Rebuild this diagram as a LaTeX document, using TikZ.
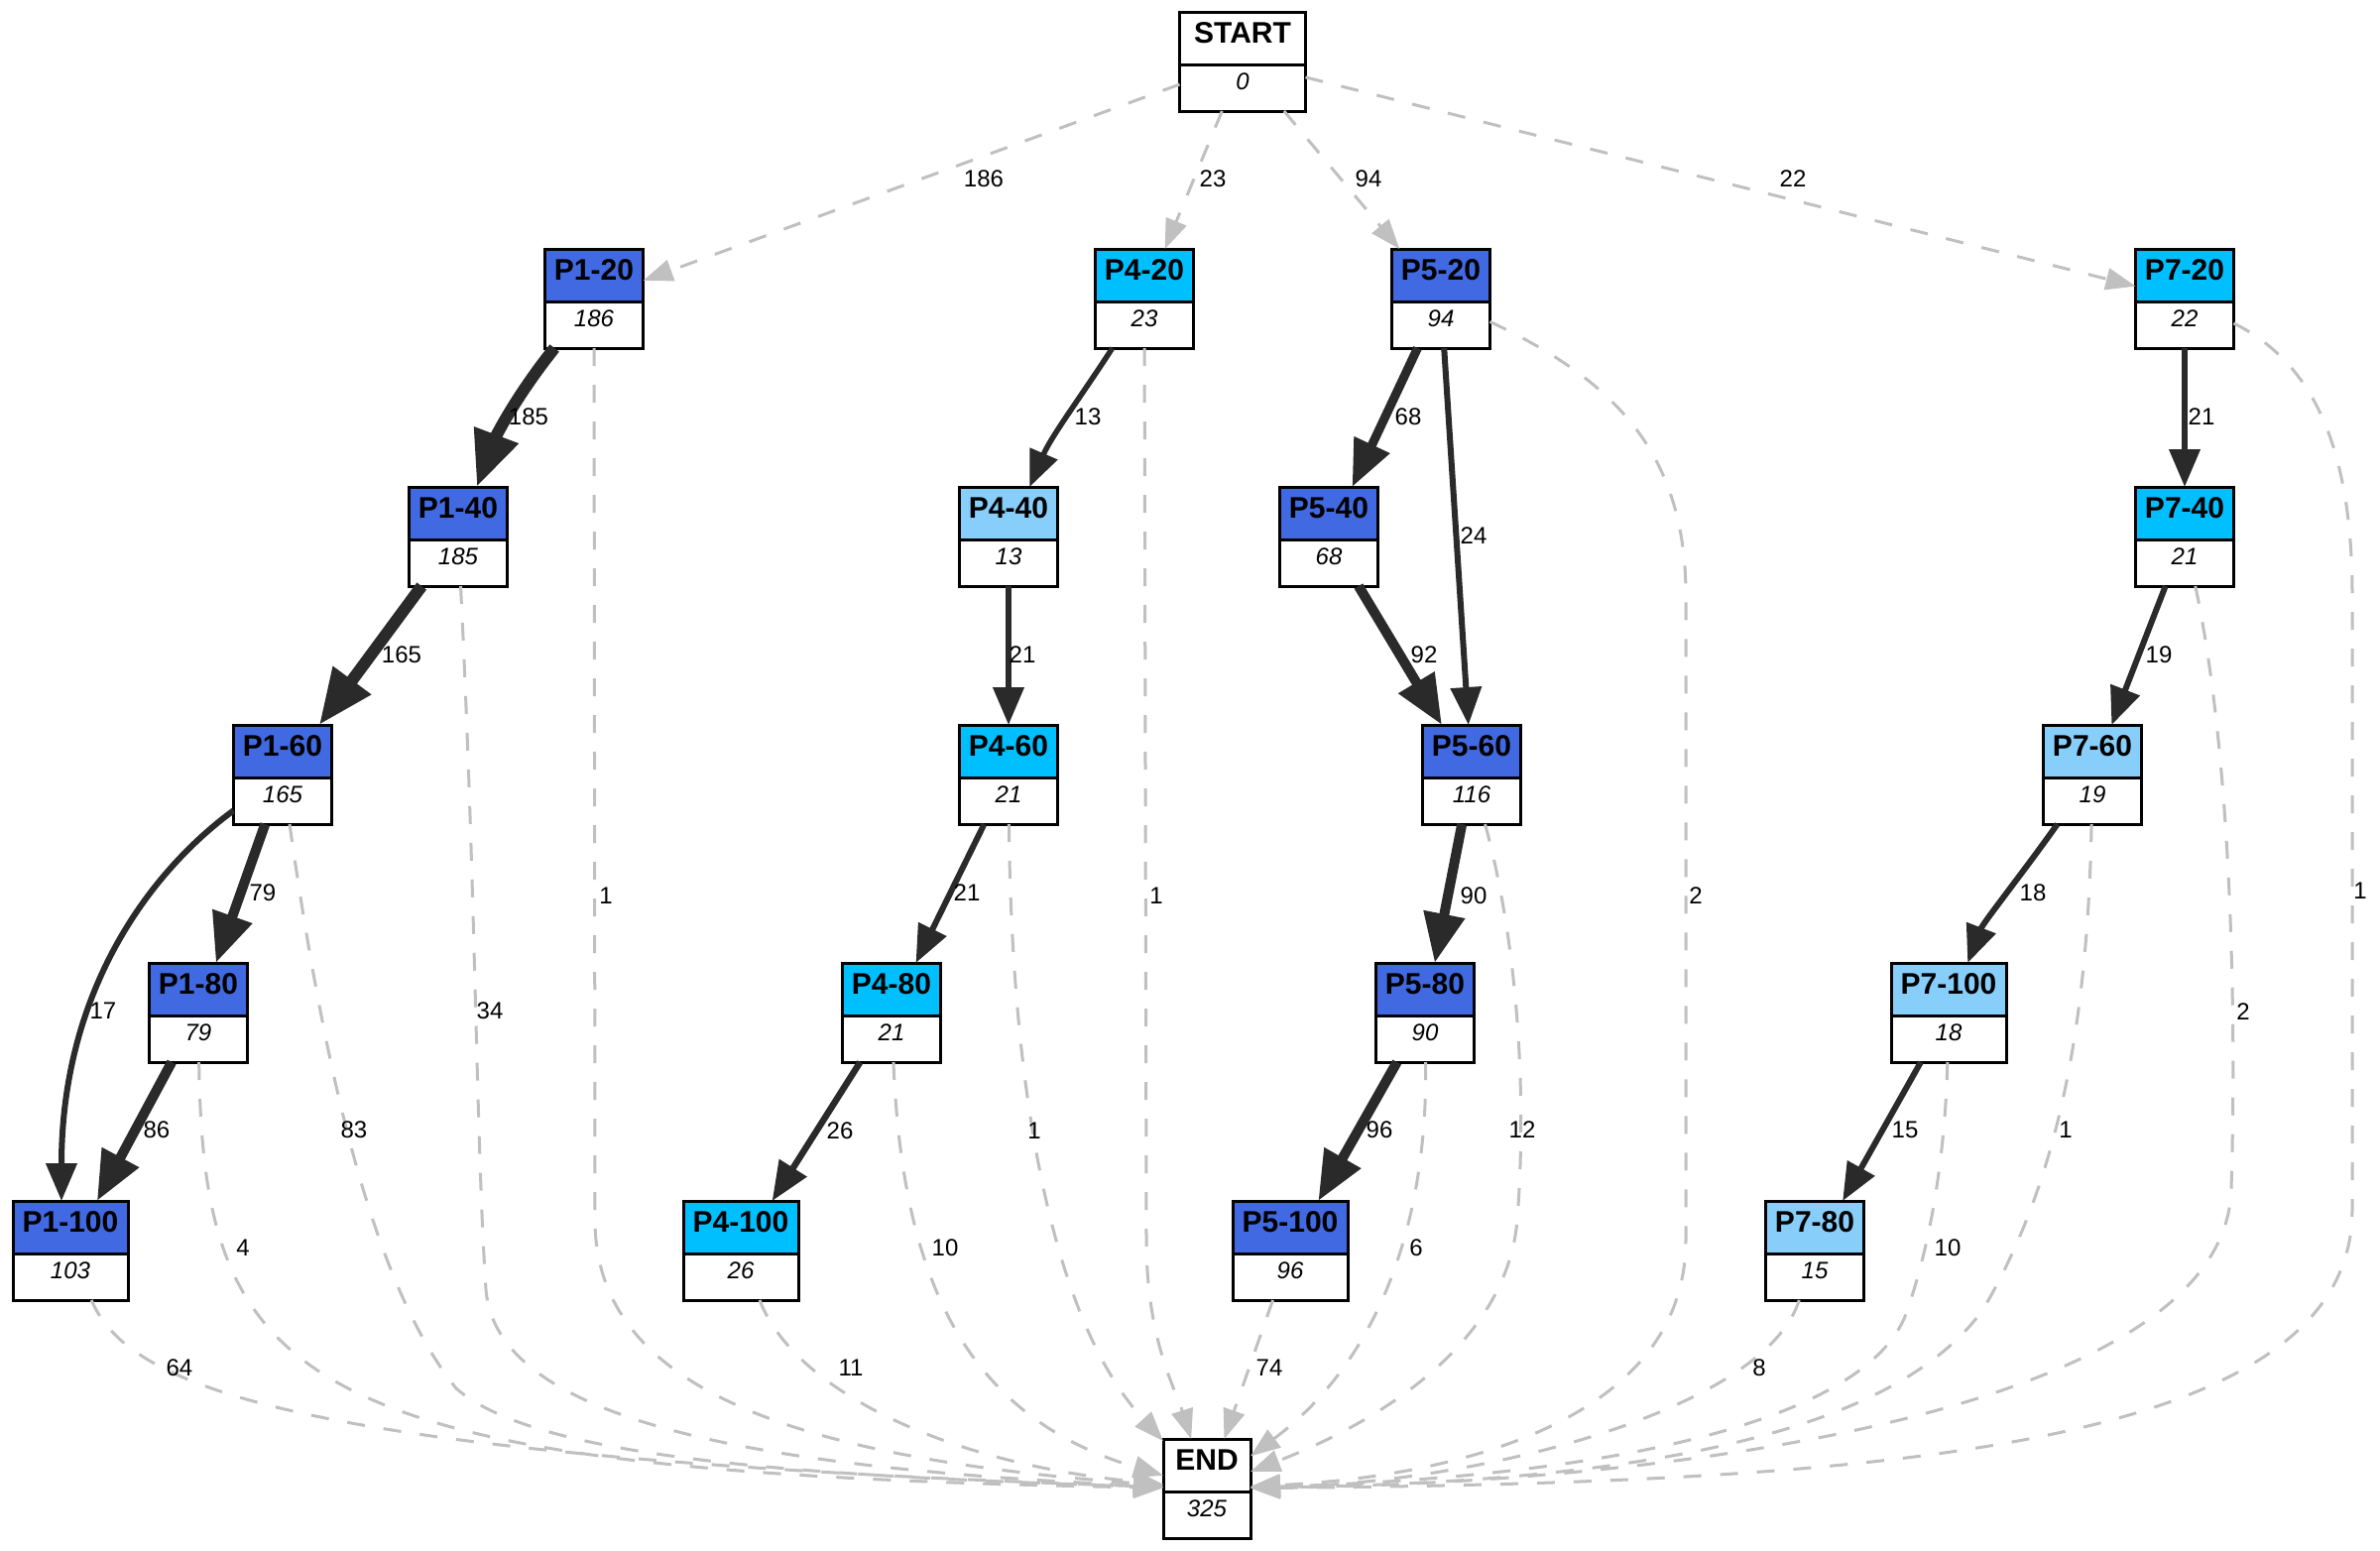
\documentclass[tikz,border=0pt]{standalone}
\usepackage{fontspec}
\setmainfont{Liberation Sans}
\usetikzlibrary{arrows.meta}
\definecolor{royal}{HTML}{4169E1}
\definecolor{deep}{HTML}{00BFFF}
\definecolor{light}{HTML}{87CEFA}
\definecolor{flowc}{HTML}{2A2A2A}
\definecolor{dropc}{HTML}{C0C0C0}
\newcommand\gnode[7]{%
  \node[gbox, minimum width=#4] (#1) at (#2,#3) {};
  \fill[white] (#1.north west) rectangle (#1.south east);
  \fill[#5] (#1.north west) rectangle ([yshift=-26.5pt]#1.north east);
  \draw[boxline] ([yshift=-26.5pt]#1.north west) -- ([yshift=-26.5pt]#1.north east);
  \draw[boxline] (#1.north west) rectangle (#1.south east);
  \node[ttl] (#1-t) at ([yshift=-10.5pt]#1.north) {#6};
  \node[cnt] (#1-c) at ([yshift=-35pt]#1.north) {#7};
}
\tikzset{
  gbox/.style={rectangle, inner sep=0pt, outer sep=0pt, minimum height=50pt},
  boxline/.style={draw=black, line width=1.5pt},
  ttl/.style={font=\fontsize{15pt}{17pt}\selectfont\bfseries, inner sep=0pt},
  cnt/.style={font=\fontsize{12pt}{14pt}\selectfont\itshape, inner sep=0pt},
  elab/.style={font=\fontsize{12pt}{14pt}\selectfont, inner sep=0pt},
  flowedge/.style={draw=flowc, line width=#1, -{Triangle[length=10pt 3, width=8pt 2.4]}},
  dropedge/.style={draw=dropc, line width=1.5pt, dash pattern=on 9pt off 9.5pt, -{Triangle[length=15pt, width=11pt]}},
}
\begin{document}
\begin{tikzpicture}[x=0.5pt, y=-0.5pt]
\fill[white] (0,0) rectangle (2400,1564);
\useasboundingbox (0,0) rectangle (2400,1564);
% nodes
\gnode{start}{1253}{62}{63.5pt}{white}{START}{0}
\gnode{p1n20}{599}{301}{49.5pt}{royal}{P1-20}{186}
\gnode{p4n20}{1154}{301}{49.5pt}{deep}{P4-20}{23}
\gnode{p5n20}{1453}{301}{49.5pt}{royal}{P5-20}{94}
\gnode{p7n20}{2203}{301}{49.5pt}{deep}{P7-20}{22}
\gnode{p1n40}{462}{541}{49.5pt}{royal}{P1-40}{185}
\gnode{p4n40}{1017}{541}{49.5pt}{light}{P4-40}{13}
\gnode{p5n40}{1340}{541}{49.5pt}{royal}{P5-40}{68}
\gnode{p7n40}{2203}{541}{49.5pt}{deep}{P7-40}{21}
\gnode{p1n60}{285}{781}{49.5pt}{royal}{P1-60}{165}
\gnode{p4n60}{1017}{781}{49.5pt}{deep}{P4-60}{21}
\gnode{p5n60}{1484}{781}{49.5pt}{royal}{P5-60}{116}
\gnode{p7n60}{2110}{781}{49.5pt}{light}{P7-60}{19}
\gnode{p1n80}{200}{1021}{49.5pt}{royal}{P1-80}{79}
\gnode{p4n80}{899}{1021}{49.5pt}{deep}{P4-80}{21}
\gnode{p5n80}{1437}{1021}{49.5pt}{royal}{P5-80}{90}
\gnode{p7n100}{1965}{1021}{58pt}{light}{P7-100}{18}
\gnode{p1n100}{71}{1261}{58pt}{royal}{P1-100}{103}
\gnode{p4n100}{747}{1261}{58pt}{deep}{P4-100}{26}
\gnode{p5n100}{1301}{1261}{58pt}{royal}{P5-100}{96}
\gnode{p7n80}{1830}{1261}{49.5pt}{light}{P7-80}{15}
\gnode{end}{1217}{1501}{44pt}{white}{END}{325}
% start edges
\draw[dropedge] (start) -- (p1n20);
\draw[dropedge] (start) -- (p4n20);
\draw[dropedge] (start) -- (p5n20);
\draw[dropedge] (start) -- (p7n20);
% solid flows
\draw[flowedge=6pt] (p1n20) .. controls (520,400) and (500,440) .. (p1n40);
\draw[flowedge=6pt] (p1n40) -- (p1n60);
\draw[flowedge=5pt] (p1n60) -- (p1n80);
\draw[flowedge=3pt] (p1n60) .. controls (150,880) and (62,1000) .. ([xshift=-4.5pt]p1n100.north);
\draw[flowedge=5pt] (p1n80) -- (p1n100);
\draw[flowedge=2.75pt] (p4n20) .. controls (1090,400) and (1060,440) .. (p4n40);
\draw[flowedge=3pt] (p4n40) -- (p4n60);
\draw[flowedge=3pt] (p4n60) -- (p4n80);
\draw[flowedge=3.25pt] (p4n80) -- (p4n100);
\draw[flowedge=4.5pt] (p5n20) -- (p5n40);
\draw[flowedge=3pt] (p5n20) -- (p5n60);
\draw[flowedge=5pt] (p5n40) -- (p5n60);
\draw[flowedge=5pt] (p5n60) -- (p5n80);
\draw[flowedge=5pt] (p5n80) -- (p5n100);
\draw[flowedge=3pt] (p7n20) -- (p7n40);
\draw[flowedge=3pt] (p7n40) -- (p7n60);
\draw[flowedge=3pt] (p7n60) .. controls (2040,880) and (2000,930) .. (p7n100);
\draw[flowedge=3pt] (p7n100) -- (p7n80);
% drop-outs to END
\draw[dropedge] (p1n20) -- (600,1230) .. controls (600,1400) and (800,1470) .. (end);
\draw[dropedge] (p1n40) .. controls (480,900) and (480,1150) .. (490,1300) .. controls (500,1430) and (750,1480) .. (end);
\draw[dropedge] (p1n60) .. controls (330,1100) and (380,1300) .. (460,1400) .. controls (540,1470) and (800,1488) .. (end);
\draw[dropedge] (p1n80) .. controls (205,1400) and (300,1485) .. (end);
\draw[dropedge] (p1n100) .. controls (130,1400) and (300,1470) .. (end);
\draw[dropedge] (p4n20) -- (1156,1250) .. controls (1156,1350) and (1185,1400) .. (end);
\draw[dropedge] (p4n60) .. controls (1020,1100) and (1060,1330) .. (end);
\draw[dropedge] (p4n80) .. controls (910,1300) and (980,1430) .. (end);
\draw[dropedge] (p4n100) .. controls (800,1400) and (950,1475) .. (end);
\draw[dropedge] (p5n20) .. controls (1620,380) and (1700,450) .. (1700,600) -- (1700,1250) .. controls (1700,1440) and (1450,1490) .. (end);
\draw[dropedge] (p5n60) .. controls (1530,950) and (1540,1100) .. (1530,1230) .. controls (1520,1350) and (1400,1430) .. (end);
\draw[dropedge] (p5n80) .. controls (1440,1250) and (1380,1380) .. (end);
\draw[dropedge] (p5n100) -- (end);
\draw[dropedge] (p7n20) .. controls (2320,360) and (2372,430) .. (2372,600) -- (2372,1220) .. controls (2372,1460) and (1900,1495) .. (end);
\draw[dropedge] (p7n40) .. controls (2248,750) and (2256,1000) .. (2250,1200) .. controls (2242,1420) and (1700,1495) .. (end);
\draw[dropedge] (p7n60) .. controls (2105,1050) and (2070,1200) .. (2000,1320) .. controls (1900,1460) and (1600,1495) .. (end);
\draw[dropedge] (p7n100) .. controls (1962,1150) and (1950,1250) .. (1920,1330) .. controls (1870,1440) and (1600,1490) .. (end);
\draw[dropedge] (p7n80) .. controls (1780,1420) and (1500,1495) .. (end);
% edge labels
\node[elab] (l01) at (992,180) {186};
\node[elab] (l02) at (1223,180) {23};
\node[elab] (l03) at (1380,180) {94};
\node[elab] (l04) at (1808,180) {22};
\node[elab] (l05) at (533,420) {185};
\node[elab] (l06) at (611,903) {1};
\node[elab] (l07) at (1097,420) {13};
\node[elab] (l08) at (1166,903) {1};
\node[elab] (l09) at (1420,420) {68};
\node[elab] (l10) at (1486,540) {24};
\node[elab] (l11) at (1710,903) {2};
\node[elab] (l12) at (2220,420) {21};
\node[elab] (l13) at (2380,898) {1};
\node[elab] (l14) at (405,660) {165};
\node[elab] (l15) at (1031,660) {21};
\node[elab] (l16) at (1436,660) {92};
\node[elab] (l17) at (2177,660) {19};
\node[elab] (l18) at (494,1019) {34};
\node[elab] (l19) at (265,900) {79};
\node[elab] (l20) at (975,900) {21};
\node[elab] (l21) at (1486,903) {90};
\node[elab] (l22) at (2050,900) {18};
\node[elab] (l23) at (2262,1020) {2};
\node[elab] (l24) at (104,1019) {17};
\node[elab] (l25) at (357,1139) {83};
\node[elab] (l26) at (158,1139) {86};
\node[elab] (l27) at (847,1140) {26};
\node[elab] (l28) at (1043,1140) {1};
\node[elab] (l29) at (1391,1139) {96};
\node[elab] (l30) at (1535,1139) {12};
\node[elab] (l31) at (1921,1139) {15};
\node[elab] (l32) at (2083,1139) {1};
\node[elab] (l33) at (245,1258) {4};
\node[elab] (l34) at (953,1258) {10};
\node[elab] (l35) at (1428,1258) {6};
\node[elab] (l36) at (1964,1258) {10};
\node[elab] (l37) at (181,1379) {64};
\node[elab] (l38) at (858,1379) {11};
\node[elab] (l39) at (1280,1379) {74};
\node[elab] (l40) at (1774,1379) {8};
\end{tikzpicture}
\end{document}
